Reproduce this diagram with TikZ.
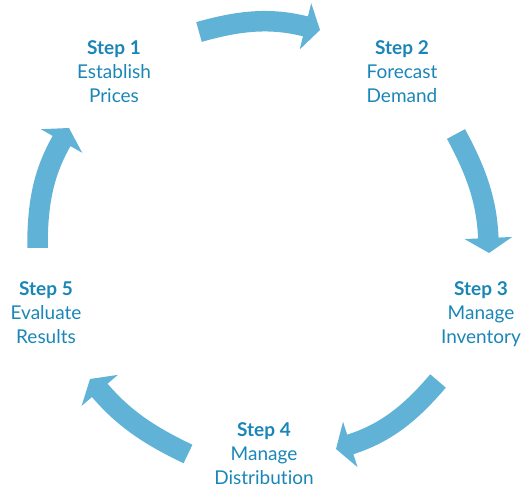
\documentclass[tikz,border=0pt]{standalone}
\usepackage{fontspec}
\setmainfont{Lato}[Ligatures=NoCommon]
\usetikzlibrary{arrows.meta}

\definecolor{stepblue}{HTML}{1A86B7}
\definecolor{arrowblue}{HTML}{60B2D7}

\begin{document}
\begin{tikzpicture}[
      x=1pt, y=1pt,
      stage label/.style ={align=center, anchor=base, inner sep=0pt, text=stepblue,
                           font=\fontsize{19}{24}\selectfont},
      cycle arrow/.style ={draw=arrowblue, line width=20.5pt,
                           -{Triangle[width=47pt,length=15pt]}}]
    \useasboundingbox (0,0) rectangle (523,489);

    % anchored at the baseline of the last line
    \node[stage label] (establish)  at (114,386) {\textbf{Step 1}\\Establish\\Prices};
    \node[stage label] (forecast)   at (402,386) {\textbf{Step 2}\\Forecast\\Demand};
    \node[stage label] (inventory)  at (481,145) {\textbf{Step 3}\\Manage\\Inventory};
    \node[stage label] (distribute) at (264,4)   {\textbf{Step 4}\\Manage\\Distribution};
    \node[stage label] (evaluate)   at (46,145)  {\textbf{Step 5}\\Evaluate\\Results};

    % arrow ends, going round clockwise
    \coordinate (a1 tail) at (199,457);   \coordinate (a1 tip) at (320,459);
    \coordinate (a2 tail) at (456,355);   \coordinate (a2 tip) at (489,236);
    \coordinate (a3 tail) at (438,108);   \coordinate (a3 tip) at (336,40);
    \coordinate (a4 tail) at (188,35);    \coordinate (a4 tip) at (90,110);
    \coordinate (a5 tail) at (37.5,241);  \coordinate (a5 tip) at (69,361);

    \draw[cycle arrow] (a1 tail) to[bend left=15] (a1 tip);
    \draw[cycle arrow] (a2 tail) to[bend left=13] (a2 tip);
    \draw[cycle arrow] (a3 tail) to[bend left=16] (a3 tip);
    \draw[cycle arrow] (a4 tail) to[bend left=12] (a4 tip);
    \draw[cycle arrow] (a5 tail) to[bend left=15] (a5 tip);
    \end{tikzpicture}
\end{document}
